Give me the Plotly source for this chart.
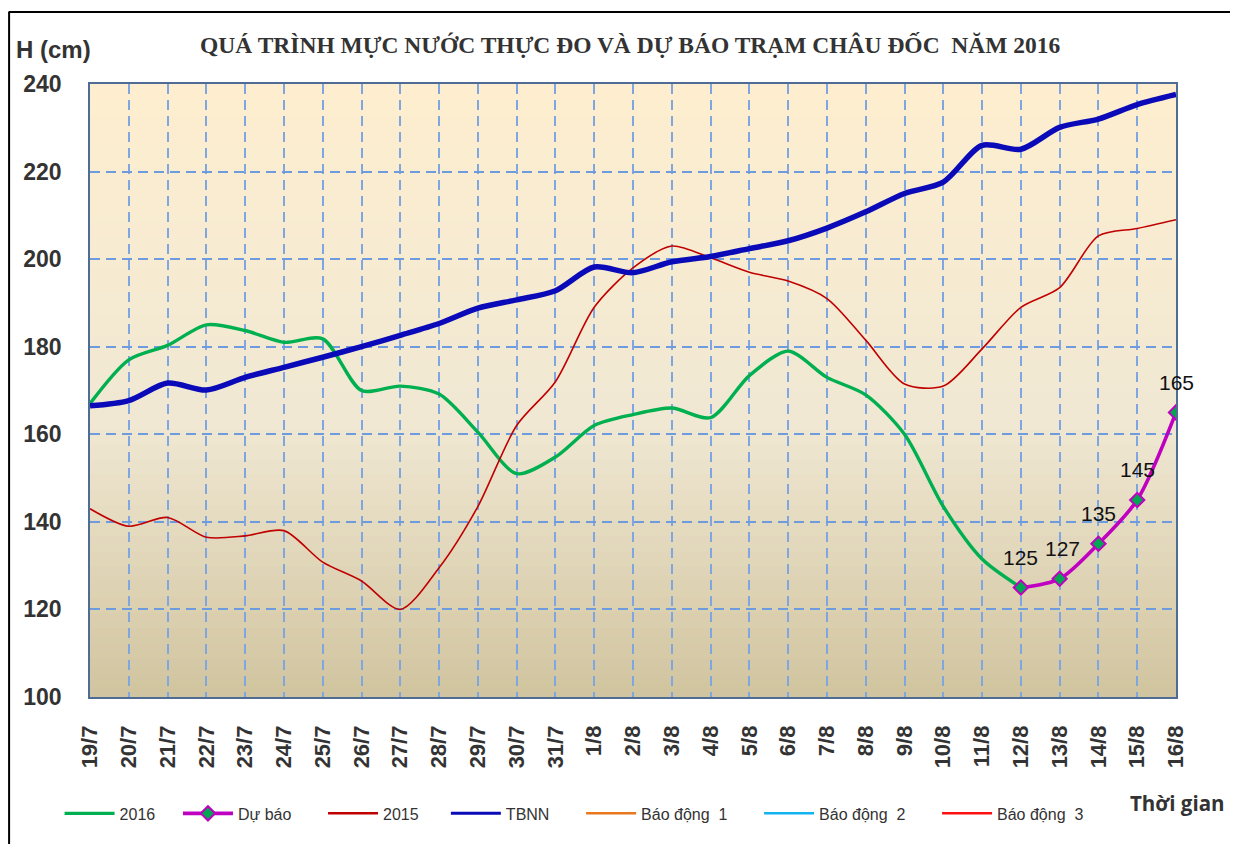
import plotly.graph_objects as go

# ---------------- data ----------------
dates = ["19/7", "20/7", "21/7", "22/7", "23/7", "24/7", "25/7", "26/7", "27/7", "28/7",
         "29/7", "30/7", "31/7", "1/8", "2/8", "3/8", "4/8", "5/8", "6/8", "7/8",
         "8/8", "9/8", "10/8", "11/8", "12/8", "13/8", "14/8", "15/8", "16/8"]

h2016 = [167, 177, 180.3, 185, 183.7, 181, 181.8, 170, 171, 169.2,
         160.5, 151, 154.8, 162, 164.5, 166, 163.8, 173.4, 179, 173,
         169, 160, 143.5, 131.5, 125]

forecast_dates = ["12/8", "13/8", "14/8", "15/8", "16/8"]
forecast = [125, 127, 135, 145, 165]

h2015 = [143, 139, 141, 136.5, 136.8, 138, 130.8, 126.5, 120, 129.5,
         143.5, 162, 172, 189, 198, 203, 200.3, 197, 195, 191,
         181.5, 171.5, 171, 179.5, 189, 193.5, 205.3, 207, 209]

tbnn = [166.5, 167.7, 171.7, 170.1, 173, 175.3, 177.6, 180, 182.6, 185.3,
        188.8, 190.7, 192.8, 198.2, 196.9, 199.4, 200.6, 202.4, 204.2, 207.1,
        210.8, 215, 217.6, 226, 225.1, 230.1, 232, 235.3, 237.6]

# alarm levels (above the visible scale; only their legend entries show)
bd1 = [350] * len(dates)
bd2 = [400] * len(dates)
bd3 = [450] * len(dates)

y_ticks = [100, 120, 140, 160, 180, 200, 220, 240]

NB = "\u00a0"

def pad(k):
    return NB * k

# ---------------- figure ----------------
fig = go.Figure()

fig.add_trace(go.Scatter(x=dates[:len(h2016)], y=h2016, name="2016" + pad(4), mode="lines",
                         line=dict(color="#00B050", width=3.4, shape="spline", smoothing=0.8)))
fig.add_trace(go.Scatter(x=forecast_dates, y=forecast, name="Dự báo" + pad(6), mode="lines+markers",
                         line=dict(color="#C000C0", width=3.6, shape="spline", smoothing=0.8),
                         marker=dict(symbol="diamond", size=11, color="#00A651",
                                     line=dict(color="#C000C0", width=2))))
fig.add_trace(go.Scatter(x=dates, y=h2015, name="2015", mode="lines", showlegend=False,
                         line=dict(color="#C00000", width=1.6, shape="spline", smoothing=0.8)))
fig.add_trace(go.Scatter(x=[None], y=[None], name="2015" + pad(5), mode="lines",
                         line=dict(color="#C00000", width=2.5)))
fig.add_trace(go.Scatter(x=dates, y=tbnn, name="TBNN", mode="lines", showlegend=False,
                         line=dict(color="#0A0AB8", width=5.5, shape="spline", smoothing=0.8)))
fig.add_trace(go.Scatter(x=[None], y=[None], name="TBNN" + pad(6), mode="lines",
                         line=dict(color="#0A0AB8", width=3)))
fig.add_trace(go.Scatter(x=dates, y=bd1, name="Báo động" + NB + NB + "1" + pad(6), mode="lines",
                         line=dict(color="#E8771E", width=2.5)))
fig.add_trace(go.Scatter(x=dates, y=bd2, name="Báo động" + NB + NB + "2" + pad(6), mode="lines",
                         line=dict(color="#12B4F0", width=2.5)))
fig.add_trace(go.Scatter(x=dates, y=bd3, name="Báo động" + NB + NB + "3", mode="lines",
                         line=dict(color="#FF1010", width=2.5)))

# gradient background of plot area
def lerp(c1, c2, t):
    return tuple(round(a + (b - a) * t) for a, b in zip(c1, c2))

stops = [(0.0, (209, 196, 159)), (0.45, (240, 232, 211)), (1.0, (254, 238, 207))]
shapes = []
n = 80
for k in range(n):
    y0 = k / n
    y1 = (k + 1) / n
    ym = (y0 + y1) / 2
    for (p0, c0), (p1, c1) in zip(stops[:-1], stops[1:]):
        if p0 <= ym <= p1:
            col = lerp(c0, c1, (ym - p0) / (p1 - p0))
            break
    shapes.append(dict(type="rect", xref="x domain", yref="y domain", x0=0, x1=1,
                       y0=y0, y1=y1 + 0.002, fillcolor="rgb(%d,%d,%d)" % col,
                       line=dict(width=0), layer="below"))

# outer frame (top and left black lines)
shapes.append(dict(type="line", xref="paper", yref="paper", x0=-0.075, x1=1.2,
                   y0=1.1175, y1=1.1175, line=dict(color="black", width=2)))
shapes.append(dict(type="line", xref="paper", yref="paper", x0=-0.0745, x1=-0.0745,
                   y0=1.1175, y1=-0.3, line=dict(color="black", width=2)))

annotations = [
    dict(text="<b>QUÁ TRÌNH MỰC NƯỚC THỰC ĐO VÀ DỰ BÁO TRẠM CHÂU ĐỐC  NĂM 2016</b>",
         xref="paper", yref="paper", x=0.4975, y=1.0636, xanchor="center", yanchor="middle",
         showarrow=False,
         font=dict(family="Liberation Serif, Times New Roman", size=23.5, color="#333333")),
    dict(text="<b>H (cm)</b>", xref="paper", yref="paper", x=-0.07, y=1.0555,
         xanchor="left", yanchor="middle", showarrow=False,
         font=dict(family="Liberation Sans Narrow, Arial Narrow, Liberation Sans", size=24, color="#333333")),
    dict(text="<b>Thời gian</b>", xref="paper", yref="paper", x=1.047, y=-0.173,
         xanchor="right", yanchor="middle", showarrow=False,
         font=dict(family="Open Sans, Noto Sans, Arial", size=20.5, color="#333333")),
]
# data labels of the forecast points
for d, v in zip(forecast_dates, forecast):
    annotations.append(dict(text=str(v), x=d, y=v, xref="x", yref="y", showarrow=False,
                            yshift=30, xshift=3 if v == 127 else 0,
                            font=dict(family="Liberation Sans, Arial", size=21, color="#111111")))

fig.update_layout(
    width=1230, height=836,
    margin=dict(l=82, r=62, t=76, b=147),
    paper_bgcolor="white",
    plot_bgcolor="#F3EBD5",
    shapes=shapes,
    annotations=annotations,
    showlegend=True,
    legend=dict(orientation="h", x=-0.028, y=-0.19, xanchor="left", yanchor="middle",
                font=dict(family="Liberation Sans, Arial", size=16, color="#333333"),
                itemwidth=50, tracegroupgap=0,
                bgcolor="rgba(0,0,0,0)"),
)

fig.update_xaxes(
    type="category", categoryorder="array", categoryarray=dates,
    range=[0, len(dates) - 1],
    showgrid=True, gridcolor="#7FA6E0", gridwidth=1.6, griddash="10px,6px",
    showline=True, linecolor="#4F6C94", linewidth=1.5, mirror=True,
    tickangle=-90, ticks="", ticklabelstandoff=18,
    tickfont=dict(family="Liberation Sans, Arial", size=22, color="#333333", weight="bold"),
    zeroline=False,
)
fig.update_yaxes(
    range=[100, 240], tickvals=y_ticks, ticktext=[str(v) for v in y_ticks],
    showgrid=True, gridcolor="#6E9BDE", gridwidth=1.6, griddash="10px,6px",
    showline=True, linecolor="#4F6C94", linewidth=1.5, mirror=True,
    ticks="", ticklabelstandoff=22,
    tickfont=dict(family="Liberation Sans, Arial", size=23, color="#333333", weight="bold"),
    zeroline=False,
)

fig.write_html("out.html")
